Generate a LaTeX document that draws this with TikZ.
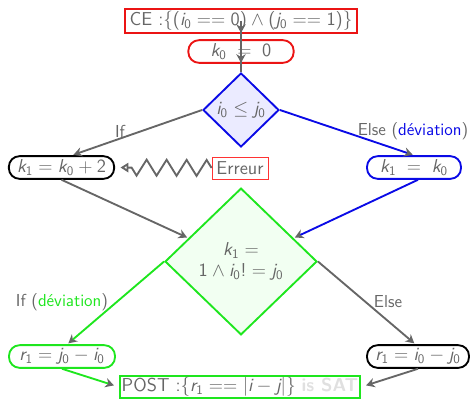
\documentclass[tikz,border=0pt]{standalone}
\usepackage{amsmath}
\usepackage{amssymb}
\usepackage{tikz}
\usetikzlibrary{shapes.geometric,arrows.meta,decorations.pathmorphing,decorations.markings,positioning}
\DeclareMathVersion{sans}
\SetSymbolFont{operators}{sans}{TU}{lmss}{m}{n}
\SetSymbolFont{letters}{sans}{TU}{lmss}{m}{sl}
\definecolor{txtgray}{gray}{0.4}
\definecolor{ceRed}{RGB}{235,20,20}
\definecolor{devBlue}{RGB}{10,10,230}
\definecolor{devGreen}{RGB}{30,230,30}
\newcommand{\flowfont}{\sffamily\fontsize{14}{16}\selectfont\mathversion{sans}}
\newcommand{\lblfont}{\sffamily\fontsize{13}{15.5}\selectfont\mathversion{sans}}

\begin{document}
\begin{tikzpicture}[
        x=0.75pt, y=-0.75pt,
        box/.style={rectangle, draw, line width=1.4pt, inner sep=1pt, text=txtgray, font=\flowfont},
        state/.style={box, rounded corners=8pt, minimum height=17pt},
        cond/.style={diamond, draw, line width=1.4pt, inner sep=0pt, text=txtgray, align=center, font=\flowfont},
        lbl/.style={text=txtgray, font=\lblfont, inner sep=1pt},
        tip/.style={-{Stealth[color=txtgray, length=6.5pt, width=7pt]}},
        flow/.style={tip, line width=1.4pt, draw=txtgray, shorten >=1pt}
    ]
        \useasboundingbox (0,0) rectangle (470,399);

        % precondition and init
        \node[box, draw=ceRed, minimum width=174pt, minimum height=18pt] (ce) at (241,21) {CE :$\{(i_0 == 0) \land (j_0 == 1)\}$};
        \node[state, draw=ceRed, minimum width=79pt] (k0) at (241,51.5) {$k_0\;=\;0$};

        % first test
        \node[cond, draw=devBlue, fill=blue!8, minimum width=57pt, minimum height=55.5pt] (d1) at (241,110) {$i_0 \le j_0$};
        \node[state, draw=black, minimum width=79pt] (lk1) at (61.5,167.5) {$k_1 = k_0 + 2$};
        \node[box, draw=red!80, line width=0.6pt, minimum width=42pt, minimum height=16.5pt] (err) at (240,168) {Erreur};
        \node[state, draw=devBlue, minimum width=70.5pt] (rk1) at (414,167.5) {$k_1\;=\;k_0$};

        % second test
        \node[cond, draw=devGreen, fill=green!5, minimum width=114pt, minimum height=110pt] (d2) at (241,261.5) {$k_1 =$\\$1 \land i_0 ! = j_0$};
        \node[state, draw=devGreen, minimum width=79.5pt] (lr1) at (62,356.5) {$r_1 = j_0 - i_0$};
        \node[state, draw=black, minimum width=76.5pt] (rr1) at (418,356.5) {$r_1 = i_0 - j_0$};
        \node[box, draw=devGreen, minimum width=180pt, minimum height=16.5pt] (post) at (240,387) {POST :$\{r_1 == |i - j|\}$ \textcolor{black!12}{\bfseries is SAT}};

        % branch labels
        \node[lbl] (ifA) at (120,131) {If};
        \node[lbl] (elseA) at (413,131) {Else (\textcolor{devBlue}{déviation})};
        \node[lbl] (ifB) at (62,302) {If (\textcolor{devGreen}{déviation})};
        \node[lbl] (elseB) at (388,302) {Else};

        % connectors
        \draw[line width=1.4pt, draw=txtgray, postaction={decorate},
            decoration={markings,
                mark=at position 9pt with {\arrow{Stealth[color=txtgray, length=6.5pt, width=7pt]}},
                mark=at position 31.4pt with {\arrow{Stealth[color=txtgray, length=6.5pt, width=7pt]}}}]
            (ce.center) -- (d1.north);
        \draw[flow] (d1.west) -- ([xshift=8pt]lk1.north);
        \draw[flow, draw=devBlue] (d1.east) -- (rk1.north);
        \draw[line width=1.4pt, draw=txtgray, -{Triangle[open, length=6pt, width=7pt]}, shorten >=4pt,
            decorate, decoration={zigzag, segment length=15pt, amplitude=6pt, mirror, post length=6pt}]
            (err.west) -- (lk1.east);
        \draw[flow] (lk1.south) -- (d2.156);
        \draw[flow, draw=devBlue] ([xshift=3pt]rk1.south) -- (d2.24);
        \draw[flow, draw=devGreen] (d2.west) -- ([xshift=4pt]lr1.north);
        \draw[flow] (d2.east) -- ([xshift=-2pt]rr1.north);
        \draw[flow, draw=devGreen, shorten >=4pt] (lr1.south) -- (post.west);
        \draw[flow, shorten >=4pt] (rr1.south) -- (post.east);
    \end{tikzpicture}
\end{document}
